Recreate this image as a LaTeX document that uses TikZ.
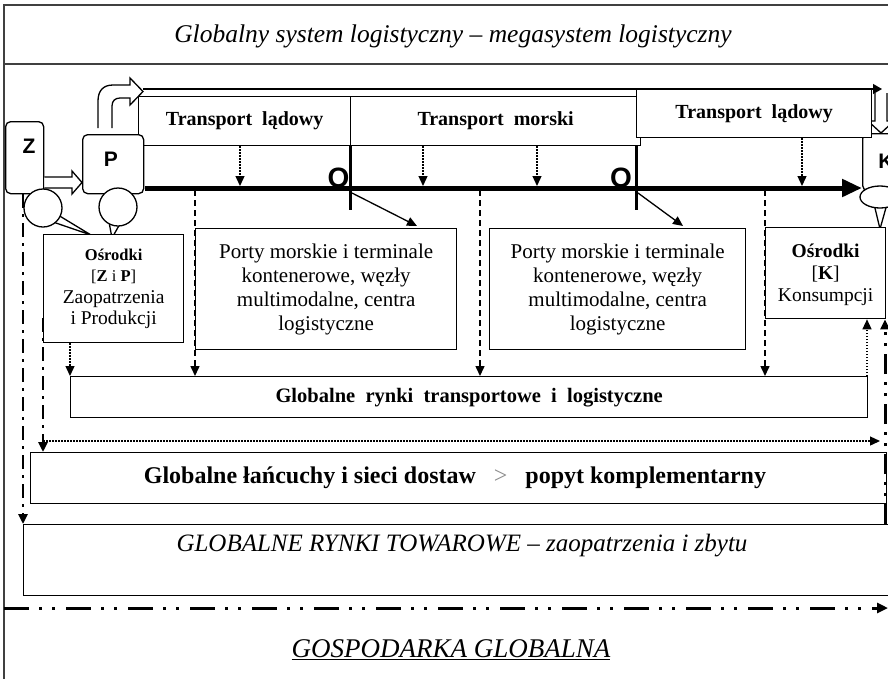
\documentclass[tikz,border=0pt]{standalone}
\usepackage{fontspec}
\setmainfont{Liberation Serif}
\setsansfont{Liberation Sans}
\usetikzlibrary{arrows.meta,shapes.geometric}
\begin{document}
\begin{tikzpicture}[x=1pt,y=-1pt,
  box/.style={draw, line width=1.3pt, fill=white, inner sep=0pt, anchor=north west},
  rbox/.style={box, rounded corners=5pt},
  tip/.style={-{Triangle[length=10pt,width=9pt]}},
  dotarrow/.style={tip, line width=1.3pt, dash pattern=on 1.5pt off 1.5pt},
  dasharrow/.style={tip, line width=1.5pt, dash pattern=on 6pt off 4pt},
  dashdotarrow/.style={tip, line width=2.5pt, dash pattern=on 14pt off 6pt on 3pt off 6pt},
  dashdotdot/.style={-{Triangle[length=11pt,width=10pt]}, line width=3pt, dash pattern=on 25pt off 10pt on 3pt off 10pt on 3pt off 11pt},
  hollow/.style={draw, fill=white, line width=1.3pt, line join=miter},
  frame/.style={draw=black!75, line width=1.8pt},
  bubble/.style={draw, fill=white, line width=1.3pt},
  letter/.style={font=\sffamily\bfseries\fontsize{21}{21}\selectfont, inner sep=0pt},
  bigO/.style={font=\sffamily\bfseries\fontsize{28}{28}\selectfont, inner sep=0pt},
  ttext/.style={font=\bfseries\fontsize{20}{22}\selectfont},
  porty/.style={font=\fontsize{21}{24}\selectfont, align=center},
]
\useasboundingbox (0,0) rectangle (888,678);
\clip (0,0) rectangle (888,678);

% frame and title band
\draw[frame] (4,700) -- (4,5) -- (900,5);
\draw[frame] (4,64) -- (900,64);
\node[font=\itshape\fontsize{25.5}{28}\selectfont] (title) at (453,36) {Globalny system logistyczny -- megasystem logistyczny};

% K box (partly hidden)
\node[rbox, minimum width=68pt, minimum height=57pt] (kbox) at (862,133) {};
\node[letter] (klab) at (886,161) {K};

% top flow line
\coordinate (topstart) at (143,89);
\coordinate (topend) at (882,89);
\draw[-{Triangle[length=9pt,width=10pt]}, line width=1.2pt] (topstart) -- (topend);

% hollow down arrow into K
\draw[hollow] (875,93) -- (875,121) -- (868,121) -- (881,133) -- (894,121) -- (887,121) -- (887,93);

% transport boxes
\node[box, minimum width=212pt, minimum height=49pt, ttext] (tl1) at (138,96) {Transport\ \ lądowy};
\node[box, minimum width=290pt, minimum height=49pt, ttext] (tm) at (350,96) {Transport\ \ morski};
\node[box, minimum width=235pt, minimum height=48pt, ttext] (tl2) at (636,89) {Transport\ \ lądowy};

% Z and P
\node[rbox, minimum width=38pt, minimum height=72pt] (zbox) at (5,121) {};
\node[letter] (zlab) at (29,146) {Z};
\node[rbox, minimum width=61pt, minimum height=59pt] (pbox) at (82,134) {};
\node[letter] (plab) at (111,159) {P};

% curved hollow arrow from P
\draw[hollow] (98,128) -- (98,101) .. controls (98,91) and (103,85) .. (113,85) -- (130,85) -- (130,78) -- (143,91.5) -- (130,105) -- (130,98) -- (120,98) .. controls (115,98) and (112,101) .. (112,106) -- (112,128);

% hollow arrow Z -> P
\draw[hollow] (zbox.east |- 0,177) -- (72,177) -- (72,171) -- (pbox.west |- 0,182.5) -- (72,194) -- (72,188) -- (zbox.east |- 0,188);

% main transport line
\coordinate (mainstart) at (145,188);
\coordinate (mainend) at (862,188);
\draw[-{Triangle[length=20pt,width=17pt]}, line width=5pt] (mainstart) -- (mainend);

% dividers and O
\draw[line width=3pt] (350,145) -- (350,210);
\draw[line width=3pt] (636,145) -- (636,210);
\node[bigO] (o1) at (338.5,177.5) {O};
\node[bigO] (o2) at (621,177.5) {O};

% dotted arrows from transport boxes
\draw[dotarrow] (tl1.south -| 240,0) -- (240,186);
\draw[dotarrow] (tm.south -| 423,0) -- (423,186);
\draw[dotarrow] (tm.south -| 537,0) -- (537,186);
\draw[dotarrow] (tl2.south -| 802,0) -- (802,186);

% bubbles
\draw[bubble] (53,222) -- (91,235) -- (58,215);
\node[bubble, circle, minimum size=38pt, inner sep=0pt] (zbub) at (43,208) {};
\draw[bubble] (109,222) -- (112,238) -- (121,222);
\node[bubble, circle, minimum size=38pt, inner sep=0pt] (pbub) at (118,207) {};
\draw[bubble] (874,204) -- (880,229) -- (887,204);
\node[bubble, ellipse, minimum width=40pt, minimum height=22pt, inner sep=0pt] (kbub) at (880,197) {};

% centres and ports
\node[box, minimum width=140pt, minimum height=108pt] (ozp) at (43,234) {};
\node[align=center, font=\fontsize{19.5}{21.5}\selectfont] (ozptext) at (ozp.center) {{\bfseries\fontsize{16.5}{21.5}\selectfont Ośrodki}\\{\fontsize{16.5}{21.5}\selectfont[\textbf{Z} i \textbf{P}]}\\Zaopatrzenia\\i Produkcji};

\node[box, minimum width=261pt, minimum height=121pt, porty] (port1) at (195,228) {Porty morskie i terminale\\kontenerowe, węzły\\multimodalne, centra\\logistyczne};
\node[box, minimum width=256pt, minimum height=121pt, porty] (port2) at (489,228) {Porty morskie i terminale\\kontenerowe, węzły\\multimodalne, centra\\logistyczne};

\node[box, minimum width=120pt, minimum height=91pt] (ok) at (765,227) {};
\node[align=center, font=\fontsize{19.5}{22}\selectfont] (oktext) at ([yshift=-2pt]ok.center) {{\bfseries Ośrodki}\\{[\textbf{K}]}\\Konsumpcji};

% diagonal arrows
\draw[tip, line width=1.3pt] (352,193) -- (417,226);
\draw[tip, line width=1.3pt] (638,193) -- (683,226);

% markets
\node[box, minimum width=797pt, minimum height=41pt, font=\bfseries\fontsize{20.5}{22}\selectfont] (rynki) at (70,376) {Globalne\ \ rynki\ \ transportowe\ \ i\ \ logistyczne};

\draw[dasharrow] (195,190) -- (rynki.north -| 195,0);
\draw[dasharrow] (480,190) -- (rynki.north -| 480,0);
\draw[dasharrow] (765,190) -- (rynki.north -| 765,0);
\draw[dotarrow] (ozp.south -| 70,0) -- (rynki.north -| 70,0);
\draw[dotarrow] (rynki.north -| 867,0) -- (ok.south -| 867,0);

\node[box, minimum width=856pt, minimum height=51pt] (lanc) at (30,452) {};
\node[font=\bfseries\fontsize{24}{26}\selectfont] (lanctext) at (455,478) {Globalne łańcuchy i sieci dostaw\ \ \ {\mdseries\color{black!45}>}\ \ \ popyt komplementarny};

\node[box, minimum width=880pt, minimum height=71pt] (rt) at (23,524) {};
\node[font=\itshape\fontsize{25}{27}\selectfont] (rttext) at (462,546) {GLOBALNE RYNKI TOWAROWE -- zaopatrzenia i zbytu};

% left and right dash-dot flows
\draw[dashdotarrow] (zbox.south -| 23,0) -- (rt.north -| 23,0);
\draw[dashdotarrow] (43,318) -- (lanc.north -| 43,0);
\draw[dotarrow] (43,441) -- (880,441);
\draw[dashdotarrow, line width=3pt, dash pattern=on 20pt off 8pt on 3pt off 8pt on 3pt off 8pt] (rt.north -| 885,0) -- (ok.south -| 885,0);

% bottom line
\coordinate (bstart) at (4,608);
\coordinate (bend) at (888,608);
\draw[dashdotdot] (bstart) -- (bend);
\node[font=\itshape\fontsize{27}{29}\selectfont] (gosp) at (451,650) {\underline{GOSPODARKA GLOBALNA}};
\end{tikzpicture}
\end{document}
